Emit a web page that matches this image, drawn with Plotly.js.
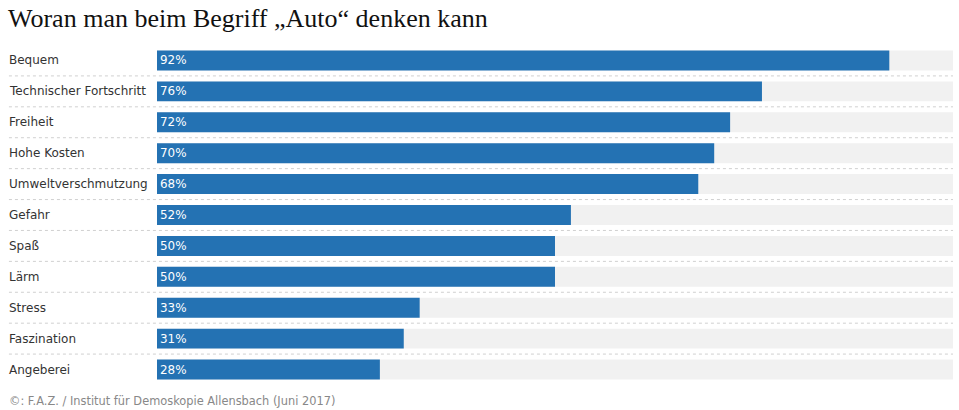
<!DOCTYPE html>
<html><head><meta charset="utf-8">
<script src="https://cdn.plot.ly/plotly-3.0.1.min.js"></script>
<style>html,body{margin:0;padding:0;background:#fff;}#c{width:959px;height:410px;}</style>
</head><body><div id="c"></div>
<script>
const categories = ["Bequem","Technischer Fortschritt","Freiheit","Hohe Kosten","Umweltverschmutzung","Gefahr","Spaß","Lärm","Stress","Faszination","Angeberei"];
const values = [92,76,72,70,68,52,50,50,33,31,28];
const fullValues = categories.map(() => 100);
const idx = categories.map((_, i) => i);
const L = 157, R = 952.6, W = R - L;
const px = p => (p - L) / W;

const traces = [
  {type:'bar', orientation:'h', y: idx, x: fullValues, width:0.645,
   marker:{color:'#f1f1f1'}, hoverinfo:'skip', showlegend:false},
  {type:'bar', orientation:'h', y: idx, x: values, width:0.645,
   marker:{color:'#2472b3'}, text: values.map(v => v + '%'),
   textposition:'inside', insidetextanchor:'start',
   textfont:{family:'DejaVu Sans', size:12, color:'#ffffff'},
   showlegend:false}
];

const annotations = categories.map((c, i) => ({
  xref:'paper', yref:'y', x: px(7), y: i, text: c, showarrow:false,
  xanchor:'left', yanchor:'middle',
  font:{family:'DejaVu Sans', size:12, color:'#333333'}
}));
annotations.push({xref:'paper', yref:'paper', x: px(7), y: (410-401.5-24.5)/341, text:'©: F.A.Z. / Institut für Demoskopie Allensbach (Juni 2017)',
  showarrow:false, xanchor:'left', yanchor:'middle', font:{family:'DejaVu Sans', size:11.4, color:'#888888'}});

const shapes = [];
for (let i = 0; i < categories.length - 1; i++) {
  shapes.push({type:'line', xref:'paper', yref:'y', x0: px(9), x1: 1, y0: i + 0.5, y1: i + 0.5,
    line:{color:'#d0d0d0', width:1, dash:'dot'}});
}

const layout = {
  width:959, height:410,
  margin:{l:L, r:959-R, t:44.5, b:24.5, pad:0},
  paper_bgcolor:'#ffffff', plot_bgcolor:'#ffffff',
  barmode:'overlay',
  title:{text:'Woran man beim Begriff „Auto“ denken kann', x:8/959, xanchor:'left', y:1-18/410, yanchor:'middle',
    font:{family:'Liberation Serif', size:26, color:'#111111'}},
  xaxis:{range:[0,100], visible:false, fixedrange:true},
  yaxis:{range:[categories.length - 0.5, -0.5], visible:false, fixedrange:true},
  annotations, shapes
};
Plotly.newPlot('c', traces, layout, {displayModeBar:false, staticPlot:true});
</script></body></html>
